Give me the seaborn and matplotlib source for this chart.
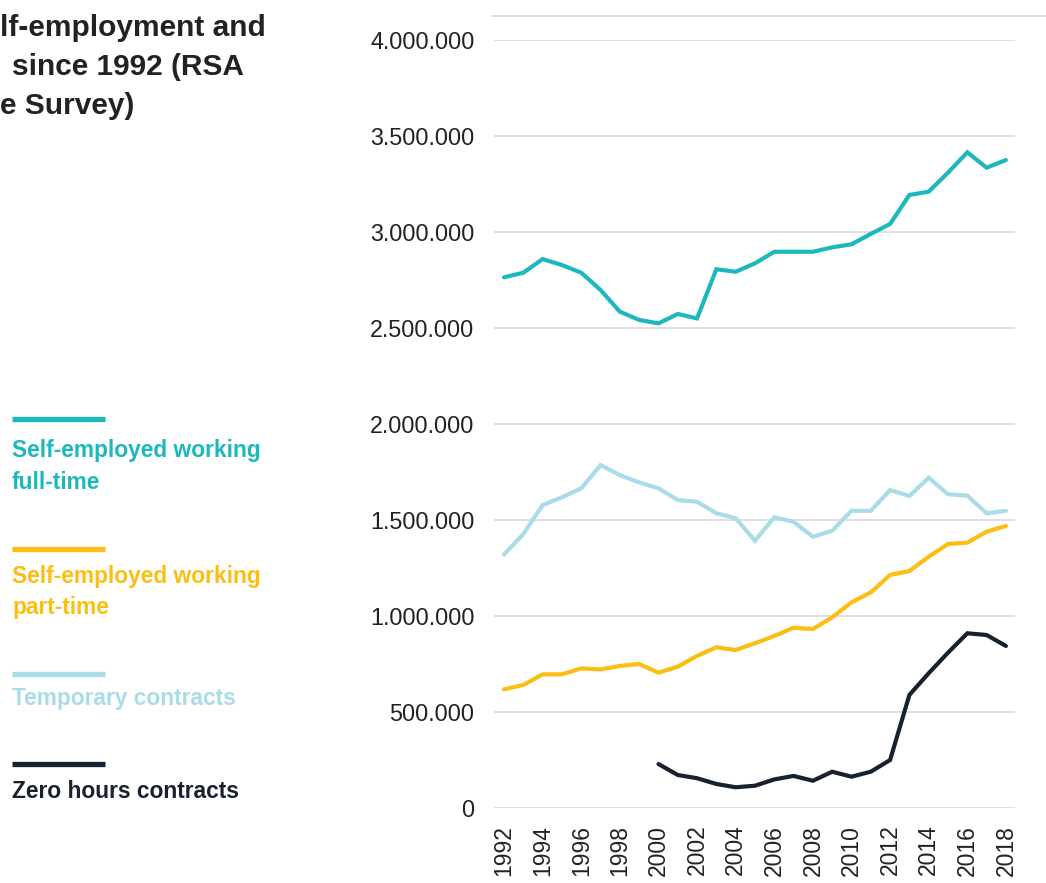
import numpy as np
import pandas as pd
import seaborn as sns
import matplotlib
matplotlib.use("Agg")
import matplotlib.pyplot as plt
from matplotlib.lines import Line2D
from matplotlib.ticker import FuncFormatter, MultipleLocator

# Annual figures, 1992-2018
years = list(range(1992, 2019))

full_time = [2764000, 2788000, 2859000, 2828000, 2788000, 2698000, 2585000, 2542000,
             2524000, 2573000, 2550000, 2806000, 2793000, 2837000, 2897000, 2897000,
             2897000, 2920000, 2936000, 2990000, 3042000, 3193000, 3210000, 3309000,
             3415000, 3335000, 3375000]

part_time = [618000, 641000, 696000, 696000, 727000, 722000, 740000, 750000,
             705000, 736000, 792000, 837000, 823000, 858000, 896000, 939000,
             932000, 993000, 1071000, 1123000, 1214000, 1234000, 1309000, 1375000,
             1382000, 1439000, 1469000]

temporary = [1321000, 1427000, 1578000, 1618000, 1665000, 1786000, 1734000, 1696000,
             1665000, 1604000, 1595000, 1535000, 1509000, 1392000, 1514000, 1491000,
             1413000, 1444000, 1548000, 1548000, 1656000, 1625000, 1720000, 1634000,
             1627000, 1535000, 1548000]

# Zero hours contracts are only recorded from 2000 onwards
zero_hours = [np.nan] * 8 + [229000, 172000, 155000, 125000, 108000, 116000, 149000,
                             167000, 142000, 189000, 163000, 189000, 250000, 589000,
                             702000, 809000, 910000, 901000, 844000]

series_names = ["Self-employed working\nfull-time",
                "Self-employed working\npart-time",
                "Temporary contracts",
                "Zero hours contracts"]
series_colors = ["#1cb8bd", "#fbbf14", "#a9dce6", "#18212f"]

title_lines = ["lf-employment and", "since 1992 (RSA", "e Survey)"]

y_ticks = list(range(0, 4000001, 500000))
x_ticks = list(range(1992, 2019, 2))

df = pd.DataFrame({
    "year": years * 4,
    "value": full_time + part_time + temporary + zero_hours,
    "series": sum([[n] * len(years) for n in series_names], []),
})

sns.set_theme(style="white")
plt.rcParams["font.family"] = ["Liberation Sans", "DejaVu Sans"]

fig = plt.figure(figsize=(10.46, 8.83), dpi=100)
ax = fig.add_axes([494 / 1046, 1 - 808 / 883, (1015 - 494) / 1046, (808 - 40) / 883])

sns.lineplot(data=df, x="year", y="value", hue="series", hue_order=series_names,
             palette=series_colors, linewidth=3.0, legend=False, ax=ax,
             solid_joinstyle="miter", solid_capstyle="round")

ax.set_xlim(1991.48, 2018.47)
ax.set_ylim(0, 4000000)
ax.yaxis.set_major_locator(MultipleLocator(500000))
ax.set_xticks(x_ticks)
ax.yaxis.set_major_formatter(FuncFormatter(lambda v, p: f"{int(v):,}".replace(",", ".")))
ax.set_xticklabels([str(y) for y in x_ticks], rotation=90)
ax.set_xlabel("")
ax.set_ylabel("")

ax.grid(axis="y", color="#dcdcdc", linewidth=1.3)
ax.grid(axis="x", visible=False)
ax.set_axisbelow(True)
for s in ax.spines.values():
    s.set_visible(False)
ax.tick_params(axis="y", length=0, pad=14, labelsize=16.8, labelcolor="#222222")
ax.tick_params(axis="x", length=0, pad=12, labelsize=16.5, labelcolor="#222222")

# thin rule across the top of the plot area
fig.add_artist(Line2D([492 / 1046, 1.0], [1 - 16 / 883, 1 - 16 / 883],
                      color="#dcdcdc", linewidth=1.3))

# title (left block)
for i, (txt, x0) in enumerate(zip(title_lines, [0, 12, 0])):
    fig.text(x0 / 1046, 1 - (28 + 39 * i) / 883, txt, ha="left", va="center",
             fontsize=21.5, fontweight="bold", color="#222222")

# custom legend: colored bar above each label
legend_bar_y = [419, 549, 674, 764]
legend_text_y = [451, 576, 699, 792]
for name, col, by, ty in zip(series_names, series_colors, legend_bar_y, legend_text_y):
    fig.add_artist(Line2D([12 / 1046, 105 / 1046], [1 - by / 883, 1 - by / 883],
                          color=col, linewidth=3.8, solid_capstyle="butt"))
    for j, part in enumerate(name.split("\n")):
        fig.text(12 / 1046, 1 - (ty + 31.5 * j) / 883, part, ha="left", va="center",
                 fontsize=16.4, fontweight="bold", color=col)

fig.savefig("out.png", dpi=100)
